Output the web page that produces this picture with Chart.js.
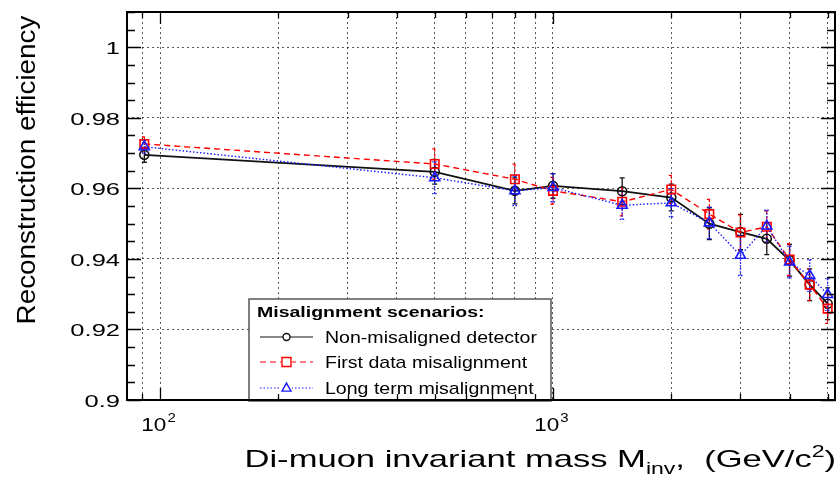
<!DOCTYPE html>
<html>
<head>
<meta charset="utf-8">
<title>Reconstruction efficiency vs di-muon mass</title>
<script src="https://cdn.jsdelivr.net/npm/chart.js@4.4.1/dist/chart.umd.min.js"></script>
<style>
  html, body { margin: 0; padding: 0; background: #fff; }
  #wrap { width: 838px; height: 477px; }
</style>
</head>
<body>
<div id="wrap"><canvas id="effChart" width="838" height="477"></canvas></div>
<script>
// Di-muon masses (GeV/c^2) where the efficiency was evaluated
const massPoints = [91.2, 500, 800, 1000, 1500, 2000, 2500, 3000, 3500, 4000, 4500, 5000];

// Efficiency and its uncertainty for each alignment scenario
const effNominal   = [0.9695, 0.9647, 0.9593, 0.9607, 0.9592, 0.9574, 0.9500, 0.9476, 0.9457, 0.9396, 0.9327, 0.9273];
const errNominal   = [0.0021, 0.0035, 0.0037, 0.0035, 0.0038, 0.0038, 0.0045, 0.0050, 0.0045, 0.0045, 0.0045, 0.0045];
const effFirstData = [0.9726, 0.9669, 0.9626, 0.9593, 0.9562, 0.9597, 0.9527, 0.9475, 0.9491, 0.9398, 0.9327, 0.9259];
const errFirstData = [0.0020, 0.0043, 0.0043, 0.0038, 0.0040, 0.0040, 0.0042, 0.0050, 0.0045, 0.0045, 0.0045, 0.0042];
const effLongTerm  = [0.9718, 0.9630, 0.9593, 0.9602, 0.9552, 0.9559, 0.9502, 0.9410, 0.9493, 0.9391, 0.9353, 0.9299];
const errLongTerm  = [0.0018, 0.0045, 0.0042, 0.0040, 0.0040, 0.0040, 0.0045, 0.0057, 0.0045, 0.0045, 0.0045, 0.0045];

const seriesLabels = ['Non-misaligned detector', 'First data misalignment', 'Long term misalignment'];
const legendTitle = 'Misalignment scenarios:';

// Axis ticks
const yTickValues = [0.9, 0.92, 0.94, 0.96, 0.98, 1.0];
const yTickLabels = ['0.9', '0.92', '0.94', '0.96', '0.98', '1'];
const xGridValues = [90, 100, 200, 300, 400, 500, 600, 700, 800, 900, 1000, 2000, 3000, 4000, 5000];
const xDecades = [100, 1000];
const xDecadeExponents = ['2', '3'];

const FONT = '"Liberation Sans", Arial, Helvetica, sans-serif';

// fillText with a horizontal stretch factor
function wideText(ctx, text, x, y, sx, align) {
  const w = ctx.measureText(text).width * sx;
  let left = x;
  if (align === 'right') left = x - w;
  else if (align === 'center') left = x - w / 2;
  ctx.save();
  ctx.translate(left, y);
  ctx.scale(sx, 1);
  ctx.textAlign = 'left';
  ctx.fillText(text, 0, 0);
  ctx.restore();
  return w;
}

function drawMarker(ctx, style, x, y, r) {
  ctx.beginPath();
  if (style === 'circle') {
    ctx.arc(x, y, r, 0, Math.PI * 2);
  } else if (style === 'rect') {
    ctx.rect(x - r, y - r, 2 * r, 2 * r);
  } else {
    ctx.moveTo(x, y - r * 1.1);
    ctx.lineTo(x + r, y + r * 0.7);
    ctx.lineTo(x - r, y + r * 0.7);
    ctx.closePath();
  }
  ctx.stroke();
}

function toPoints(ys) {
  return massPoints.map((m, i) => ({ x: m, y: ys[i] }));
}

// Vertical error bars with small end caps, drawn under the markers
const errorBars = {
  id: 'errorBars',
  beforeDatasetsDraw(chart) {
    const ctx = chart.ctx;
    const yScale = chart.scales.y;
    chart.data.datasets.forEach((ds, i) => {
      const meta = chart.getDatasetMeta(i);
      ctx.save();
      ctx.strokeStyle = ds.borderColor;
      ctx.lineWidth = 1.3;
      ctx.setLineDash(ds.errorDash);
      meta.data.forEach((pt, j) => {
        const v = ds.data[j].y;
        const e = ds.errors[j];
        const yTop = yScale.getPixelForValue(v + e);
        const yBot = yScale.getPixelForValue(v - e);
        ctx.beginPath();
        ctx.moveTo(pt.x, yTop);
        ctx.lineTo(pt.x, yBot);
        ctx.moveTo(pt.x - 2.5, yTop);
        ctx.lineTo(pt.x + 2.5, yTop);
        ctx.moveTo(pt.x - 2.5, yBot);
        ctx.lineTo(pt.x + 2.5, yBot);
        ctx.stroke();
      });
      ctx.restore();
    });
  }
};

// Legend box, frame, inward ticks, tick labels and axis titles
const decorations = {
  id: 'decorations',
  afterDraw(chart) {
    const ctx = chart.ctx;
    const area = chart.chartArea;
    const xs = chart.scales.x;
    const ys = chart.scales.y;

    // legend
    const lx = 249, ly = 299, lw = 302, lh = 102;
    ctx.save();
    ctx.fillStyle = '#fff';
    ctx.fillRect(lx, ly, lw, lh);
    ctx.strokeStyle = '#555';
    ctx.lineWidth = 1.5;
    ctx.strokeRect(lx, ly, lw, lh);
    ctx.fillStyle = '#000';
    ctx.font = 'bold 15px ' + FONT;
    wideText(ctx, legendTitle, 257, 317, 1.3, 'left');
    ctx.font = '17px ' + FONT;
    const rowY = [337, 362, 388];
    chart.data.datasets.forEach((ds, i) => {
      const y = rowY[i];
      ctx.strokeStyle = ds.borderColor;
      ctx.lineWidth = 1.2;
      ctx.setLineDash(ds.borderDash || []);
      ctx.beginPath();
      ctx.moveTo(260, y);
      ctx.lineTo(313, y);
      ctx.stroke();
      ctx.setLineDash([]);
      ctx.fillStyle = '#fff';
      if (ds.pointStyle === 'circle') {
        ctx.beginPath(); ctx.arc(286.5, y, 3.5, 0, Math.PI * 2); ctx.fill();
      } else {
        ctx.fillRect(281, y - 5, 11, 10);
      }
      ctx.lineWidth = 1.4;
      drawMarker(ctx, ds.pointStyle, 286.5, y, ds.pointStyle === 'circle' ? 3.5 : 4.5);
      ctx.fillStyle = '#000';
      wideText(ctx, seriesLabels[i], 325, y + 6, 1.15, 'left');
    });
    ctx.restore();

    // frame
    ctx.save();
    ctx.strokeStyle = '#000';
    ctx.lineWidth = 2;
    ctx.strokeRect(area.left, area.top, area.right - area.left, area.bottom - area.top);

    // y ticks on both sides, every 0.005
    ctx.lineWidth = 1.3;
    ctx.beginPath();
    for (let k = 0; k <= 22; k++) {
      const v = 0.9 + k * 0.005;
      const py = Math.round(ys.getPixelForValue(v)) + 0.5;
      const len = k % 4 === 0 ? 14 : 8;
      ctx.moveTo(area.left, py); ctx.lineTo(area.left + len, py);
      ctx.moveTo(area.right, py); ctx.lineTo(area.right - len, py);
    }
    // x ticks on bottom and top
    xGridValues.forEach(v => {
      const px = Math.round(xs.getPixelForValue(v)) + 0.5;
      const len = xDecades.includes(v) ? 12 : 6;
      ctx.moveTo(px, area.bottom); ctx.lineTo(px, area.bottom - len);
      ctx.moveTo(px, area.top); ctx.lineTo(px, area.top + len);
    });
    ctx.stroke();

    // y tick labels
    ctx.fillStyle = '#000';
    ctx.textBaseline = 'middle';
    ctx.font = '17px ' + FONT;
    yTickValues.forEach((v, i) => {
      wideText(ctx, yTickLabels[i], 120, ys.getPixelForValue(v) + 2, 1.5, 'right');
    });

    // x tick labels: 10^n
    ctx.textBaseline = 'alphabetic';
    xDecades.forEach((v, i) => {
      const px = xs.getPixelForValue(v);
      ctx.font = '18px ' + FONT;
      const base = ctx.measureText('10').width * 1.25;
      ctx.font = '12px ' + FONT;
      const sup = ctx.measureText(xDecadeExponents[i]).width * 1.25;
      const left = px - 2 - (base + sup) / 2;
      ctx.font = '18px ' + FONT;
      wideText(ctx, '10', left, 431, 1.25, 'left');
      ctx.font = '12px ' + FONT;
      wideText(ctx, xDecadeExponents[i], left + base + 1, 422, 1.25, 'left');
    });

    // x title with subscript and superscript, right-aligned to the frame
    const big = '24px ' + FONT, small = '16px ' + FONT;
    const sx = 1.44;
    const parts = [
      ['Di-muon invariant mass M', big, 0],
      ['inv', small, 7],
      [',  (GeV/c', big, 0],
      ['2', small, -10],
      [')', big, 0]
    ];
    let total = 0;
    parts.forEach(p => { ctx.font = p[1]; total += ctx.measureText(p[0]).width * sx; });
    let cx = 836 - total;
    parts.forEach(p => {
      ctx.font = p[1];
      cx += wideText(ctx, p[0], cx, 467 + p[2], sx, 'left');
    });

    // y title, rotated
    ctx.save();
    ctx.translate(35, 170);
    ctx.rotate(-Math.PI / 2);
    ctx.font = '26px ' + FONT;
    ctx.textBaseline = 'alphabetic';
    wideText(ctx, 'Reconstruction efficiency', 0, 0, 1.07, 'center');
    ctx.restore();
    ctx.restore();
  }
};

const ctx = document.getElementById('effChart').getContext('2d');
new Chart(ctx, {
  type: 'scatter',
  data: {
    datasets: [
      {
        label: seriesLabels[0],
        data: toPoints(effNominal),
        errors: errNominal,
        errorDash: [],
        showLine: true,
        borderColor: '#111',
        borderWidth: 1.8,
        backgroundColor: 'rgba(0,0,0,0)',
        pointStyle: 'circle',
        pointRadius: 4.5,
        pointBorderWidth: 1.6,
        order: 2
      },
      {
        label: seriesLabels[1],
        data: toPoints(effFirstData),
        errors: errFirstData,
        errorDash: [3, 2],
        showLine: true,
        borderColor: '#ff0000',
        borderWidth: 1.4,
        borderDash: [6, 4],
        backgroundColor: 'rgba(0,0,0,0)',
        pointStyle: 'rect',
        pointRadius: 6,
        pointBorderWidth: 1.6,
        order: 1
      },
      {
        label: seriesLabels[2],
        data: toPoints(effLongTerm),
        errors: errLongTerm,
        errorDash: [1.5, 1.5],
        showLine: true,
        borderColor: '#1a1aff',
        borderWidth: 1.4,
        borderDash: [1.5, 2],
        backgroundColor: 'rgba(0,0,0,0)',
        pointStyle: 'triangle',
        pointRadius: 5.8,
        pointBorderWidth: 1.6,
        order: 0
      }
    ]
  },
  options: {
    responsive: false,
    animation: false,
    events: [],
    layout: { autoPadding: false, padding: { left: 127, top: 12, right: 3, bottom: 77 } },
    plugins: {
      legend: { display: false },
      tooltip: { enabled: false }
    },
    scales: {
      x: {
        type: 'logarithmic',
        min: 82.4,
        max: 5220,
        afterBuildTicks: scale => { scale.ticks = xGridValues.map(v => ({ value: v })); },
        ticks: { display: false },
        grid: { color: 'rgba(0,0,0,0.65)', lineWidth: 1, drawTicks: false },
        border: { display: false, dash: [2, 3] }
      },
      y: {
        min: 0.9,
        max: 1.01,
        afterBuildTicks: scale => { scale.ticks = yTickValues.map(v => ({ value: v })); },
        ticks: { display: false },
        grid: { color: 'rgba(0,0,0,0.65)', lineWidth: 1, drawTicks: false },
        border: { display: false, dash: [2, 3] }
      }
    }
  },
  plugins: [errorBars, decorations]
});
</script>
</body>
</html>
